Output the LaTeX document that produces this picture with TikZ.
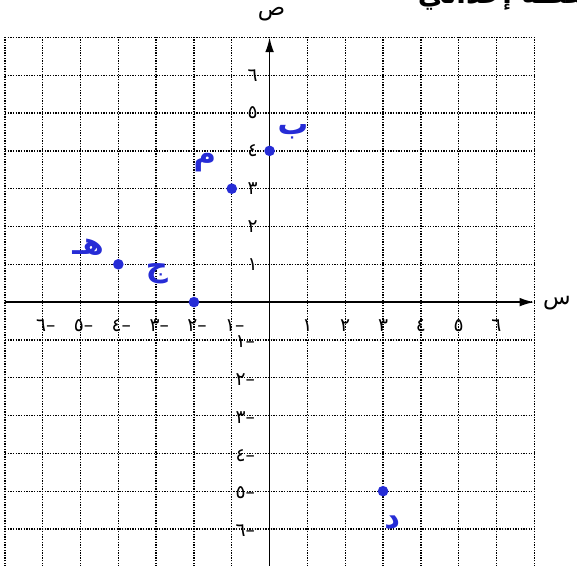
\documentclass[tikz,border=0pt]{standalone}
\usepackage{fontspec}
\newfontfamily\arabicfont[Script=Arabic]{DejaVu Sans}
\newfontfamily\digitfont{DejaVu Sans}
\TeXXeTstate=1
\usetikzlibrary{arrows.meta}
\definecolor{penblue}{RGB}{38,44,214}
\tikzset{
  gridline/.style={line width=1pt, dash pattern=on 1pt off 1pt},
  axisline/.style={line width=1.3pt, -{Latex[length=11pt,width=6.5pt]}},
  tick/.style={font=\digitfont\fontsize{14}{16}\selectfont, inner sep=0pt},
  axisname/.style={font=\arabicfont\fontsize{17}{19}\selectfont, inner sep=0pt},
  pointdot/.style={circle, fill=penblue, inner sep=0pt, minimum size=8pt},
  pointname/.style={text=penblue, font=\arabicfont\bfseries\fontsize{23}{25}\selectfont, inner sep=0pt}
}
\begin{document}
\begin{tikzpicture}
  \useasboundingbox (-7.13,-6.96) rectangle (8.13,7.99);
  \clip (-7.13,-6.96) rectangle (8.13,7.99);

  % cut-off heading
  \node[font=\arabicfont\bfseries\fontsize{21}{23}\selectfont, anchor=base east, inner sep=0pt] (heading) at (9.2,7.9) {\beginR النقطة إحداثي\endR};

  % grid
  \draw[gridline] (-7,-7) grid (7,7);

  % axes
  \coordinate (xl) at (-7,0);
  \coordinate (xr) at (7,0);
  \coordinate (yb) at (0,-7.2);
  \coordinate (yt) at (0,7);
  \draw[axisline] (xl) -- (xr);
  \draw[axisline] (yb) -- (yt);
  \node[axisname] (xname) at (7.6,-0.02) {\beginR س\endR};
  \node[axisname] (yname) at (0.05,7.62) {\beginR ص\endR};

  % numbers on the axes
  \foreach \k/\d in {1/١,2/٢,3/٣,4/٤,5/٥,6/٦} {
    \node[tick] (xp\k) at (\k,-0.62) {\d};
    \node[tick] (xn\k) at (-\k+0.08,-0.62) {\d–};
    \node[tick] (yp\k) at (-0.45,\k) {\d};
    \node[tick] (yn\k) at (-0.64,-\k-0.05) {\d–};
  }

  % points
  \node[pointdot] (A) at (-1,3) {};
  \node[pointname] (Aname) at (-1.71,3.7) {م};
  \node[pointdot] (B) at (0,4) {};
  \node[pointname] (Bname) at (0.62,4.5) {ب};
  \node[pointdot] (C) at (-2,0) {};
  \node[pointname] (Cname) at (-2.98,0.75) {ج};
  \node[pointdot] (E) at (-4,1) {};
  \node[pointname] (Ename) at (-4.8,1.45) {\beginR هـ\endR};
  \node[pointdot] (D) at (3,-5) {};
  \node[pointname] (Dname) at (3.24,-5.82) {د};
\end{tikzpicture}
\end{document}
